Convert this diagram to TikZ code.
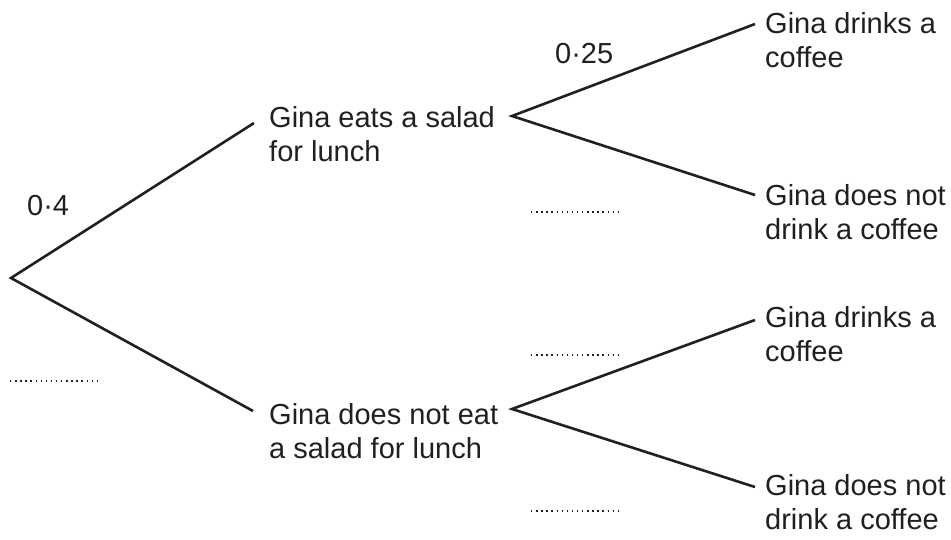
\documentclass[tikz,border=0pt]{standalone}
\usepackage{fontspec}
\setmainfont{Liberation Sans}
\definecolor{ink}{HTML}{231F20}
\begin{document}
\begin{tikzpicture}[x=1pt,y=-1pt,
  branch/.style={draw=ink,line width=2.6pt,line cap=butt,line join=miter},
  lbl/.style={anchor=base west,inner sep=0pt,text=ink,font=\fontsize{29}{34.5}\selectfont},
  blank/.style={draw=ink,line width=1.4pt,dash pattern=on 1.4pt off 3.7pt}]
\useasboundingbox (0,0) rectangle (951,539);
% tree points
\coordinate (root) at (11,278);
\coordinate (s1) at (254,123);
\coordinate (s2) at (253,411);
\coordinate (v1) at (512,116);
\coordinate (v2) at (512,409);
\coordinate (c1) at (755,24);
\coordinate (c2) at (755,195);
\coordinate (c3) at (755,320);
\coordinate (c4) at (755,487);
% labels
\node[lbl] (salad) at (269,127) {\begin{tabular}[t]{@{}l@{}}Gina eats a salad\\for lunch\end{tabular}};
\node[lbl] (nosalad) at (269,424) {\begin{tabular}[t]{@{}l@{}}Gina does not eat\\a salad for lunch\end{tabular}};
\node[lbl] (d1) at (765,33) {\begin{tabular}[t]{@{}l@{}}Gina drinks a\\coffee\end{tabular}};
\node[lbl] (d2) at (765,205) {\begin{tabular}[t]{@{}l@{}}Gina does not\\drink a coffee\end{tabular}};
\node[lbl] (d3) at (765,327) {\begin{tabular}[t]{@{}l@{}}Gina drinks a\\coffee\end{tabular}};
\node[lbl] (d4) at (765,495) {\begin{tabular}[t]{@{}l@{}}Gina does not\\drink a coffee\end{tabular}};
\node[lbl] (p1) at (27,215) {0·4};
\node[lbl] (p2) at (555,63) {0·25};
% branches
\draw[branch] (s1) -- (root) -- (s2);
\draw[branch] (c1) -- (v1) -- (c2);
\draw[branch] (c3) -- (v2) -- (c4);
% answer blanks
\coordinate (b1a) at (10,381); \coordinate (b1b) at (98,381);
\coordinate (b2a) at (531,212); \coordinate (b2b) at (619,212);
\coordinate (b3a) at (531,355); \coordinate (b3b) at (619,355);
\coordinate (b4a) at (531,511); \coordinate (b4b) at (619,511);
\draw[blank] (b1a) -- (b1b);
\draw[blank] (b2a) -- (b2b);
\draw[blank] (b3a) -- (b3b);
\draw[blank] (b4a) -- (b4b);
\end{tikzpicture}
\end{document}
